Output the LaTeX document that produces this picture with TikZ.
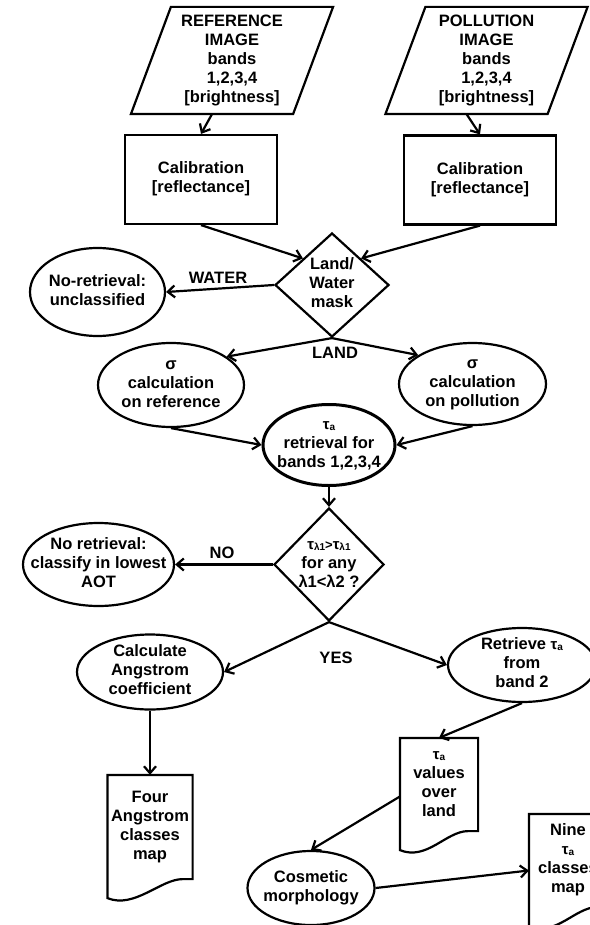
\documentclass[tikz,border=0pt]{standalone}
\usepackage{fontspec}
\setmainfont{Liberation Sans}
\usetikzlibrary{shapes.geometric}
\usetikzlibrary{arrows.meta}

\newcommand{\flowtxt}[1]{\smash{\makebox[0pt]{\raisebox{-0.25em}{\begin{tabular}{@{}c@{}}#1\end{tabular}}}}}
\newcommand{\tausub}[1]{{\fontsize{15}{19}\selectfont τ\raisebox{-1pt}{\fontsize{10}{19}\selectfont #1}}}

\begin{document}
\begin{tikzpicture}[x=1pt, y=-1pt, line width=2.2pt, >={Straight Barb[length=7pt,width=12pt]},
		every node/.style={font=\fontsize{16.5}{19}\selectfont\bfseries, inner sep=0pt}]
		
		\tikzset{
			imagebox/.style={rectangle, minimum width=160pt, minimum height=105pt},
			calbox/.style={draw, rectangle, minimum width=152pt, minimum height=89pt},
			decision/.style={draw, diamond},
			process/.style={draw, ellipse},
			docbox/.style={rectangle, minimum width=#1},
		}
		
		\useasboundingbox (0,0) rectangle (589,925);
		
		\node [imagebox] (refimg) at (232,60.5) {\flowtxt{REFERENCE\\IMAGE\\bands\\1,2,3,4\\{}[brightness]}};
		\node [imagebox] (polimg) at (486.5,60.5) {\flowtxt{POLLUTION\\IMAGE\\bands\\1,2,3,4\\{}[brightness]}};
		
		\foreach \img in {refimg, polimg}
		\draw ([xshift=-20pt]\img.south west) -- ([xshift=20pt]\img.north west) -- ([xshift=20pt]\img.north east) -- ([xshift=-20pt]\img.south east) -- cycle;
		
		\node [calbox] (refcal) at (201,179.5) {\flowtxt{Calibration\\{}[reflectance]}};
		\node [calbox] (polcal) at (480,180) {\flowtxt{Calibration\\{}[reflectance]}};
		
		\node [decision, minimum width=114pt, minimum height=104pt] (mask) at (332,285) {\flowtxt{Land/\\Water\\mask}};
		\node [process, minimum width=135pt, minimum height=88pt] (noret) at (97.5,292) {\flowtxt{No-retrieval:\\unclassified}};
		
		\node [process, minimum width=146pt, minimum height=84pt] (sigref) at (171,385) {\flowtxt{σ\\calculation\\on reference}};
		\node [process, minimum width=147pt, minimum height=82pt] (sigpol) at (472.5,384) {\flowtxt{σ\\calculation\\on pollution}};
		\node [process, line width=3pt, minimum width=132pt, minimum height=81pt] (tauret) at (329,445) {\flowtxt{\tausub{a}\\retrieval for\\bands 1,2,3,4}};
		
		\node [decision, minimum width=110pt, minimum height=113pt] (cond) at (329,564.5) {\flowtxt{\tausub{λ1}{\fontsize{13}{19}\selectfont >}\tausub{λ1}\\for any\\λ1<λ2 ?}};
		\node [process, minimum width=151pt, minimum height=83pt] (lowaot) at (98.5,564.5) {\flowtxt{No retrieval:\\classify in lowest\\AOT}};
		
		\node [process, minimum width=146pt, minimum height=75pt] (angcoef) at (150,672) {\flowtxt{Calculate\\Angstrom\\coefficient}};
		\node [process, minimum width=148pt, minimum height=74pt] (retband) at (522,665) {\flowtxt{Retrieve \tausub{a}\\from\\band 2}};
		
		\node [docbox=83pt, minimum height=102pt] (fourmap) at (150,827) {\flowtxt{Four\\Angstrom\\classes\\map}};
		\node [docbox=76pt, minimum height=91pt] (tauvals) at (439,784.5) {\flowtxt{\tausub{a}\\values\\over\\land}};
		\node [docbox=76pt, minimum height=91pt] (ninemap) at (568,860.5) {\flowtxt{Nine\\\tausub{a}\\classes\\map}};
		\node [process, minimum width=127pt, minimum height=74pt] (cosm) at (311,888) {\flowtxt{Cosmetic\\morphology}};
		
		\foreach \doc in {fourmap, tauvals, ninemap}
		\draw ([yshift=-19pt]\doc.south west) -- (\doc.north west) -- (\doc.north east) -- (\doc.south east) -- ++(-10,0) .. controls +(-22,0) and +(27,11) .. ([yshift=-19pt]\doc.south west) -- cycle;
		
		\node (water) at (218,278) {WATER};
		\node (land) at (335,353) {LAND};
		\node (no) at (222,553) {NO};
		\node (yes) at (336,658) {YES};
		
		\draw [->] ([xshift=-20pt]refimg.south) -- (refcal.north);
		\draw [->] ([xshift=-20pt]polimg.south) -- (polcal.north);
		\draw [->] (refcal.south) -- (mask.north west);
		\draw [->] (polcal.south) -- (mask.north east);
		\draw [->] (mask.west) -- (noret.east);
		\draw [->] (mask.south) -- (sigref.27);
		\draw [->] (mask.south) -- (sigpol.152);
		\draw [->] (sigref.south) -- (tauret.west);
		\draw [->] (sigpol.south) -- (tauret.east);
		\draw [->] (tauret.south) -- (cond.north);
		\draw [->] (cond.west) -- (lowaot.east);
		\draw [->] (cond.south) -- (angcoef.east);
		\draw [->] (cond.south) -- (retband.west);
		\draw [->] (angcoef.south) -- (fourmap.north);
		\draw [->] (retband.south) -- (tauvals.north);
		\draw [->] ([yshift=-12pt]tauvals.west) -- (cosm.north);
		\draw [->] (cosm.east) -- ([yshift=-10pt]ninemap.west);
		\end{tikzpicture}
\end{document}
